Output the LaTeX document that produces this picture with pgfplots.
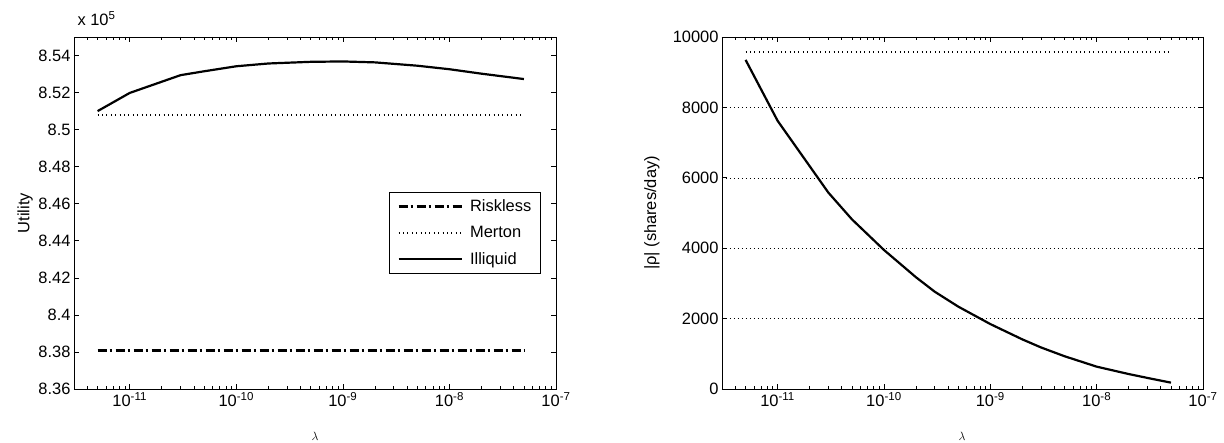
\documentclass[border=0pt]{standalone}
\usepackage{fontspec}
\setmainfont{Liberation Sans}
\usepackage{pgfplots}
\pgfplotsset{compat=1.18}
\begin{document}
\begin{tikzpicture}
\useasboundingbox (0,0) rectangle (1224bp,443bp);
% ---------------- left panel ----------------
\begin{axis}[
  xmode=log, scale only axis, anchor=south west,
  at={(74bp,54bp)}, width=482bp, height=352bp,
  xmin=3e-12, xmax=1e-7,
  xtick={1e-11,1e-10,1e-9,1e-8,1e-7},
  xticklabels={10\textsuperscript{-11},10\textsuperscript{-10},10\textsuperscript{-9},10\textsuperscript{-8},10\textsuperscript{-7}},
  minor xtick={4e-12,5e-12,6e-12,7e-12,8e-12,9e-12,
    2e-11,3e-11,4e-11,5e-11,6e-11,7e-11,8e-11,9e-11,
    2e-10,3e-10,4e-10,5e-10,6e-10,7e-10,8e-10,9e-10,
    2e-9,3e-9,4e-9,5e-9,6e-9,7e-9,8e-9,9e-9,
    2e-8,3e-8,4e-8,5e-8,6e-8,7e-8,8e-8,9e-8},
  tick align=inside, tick pos=both,
  major tick length=5bp, minor tick length=3bp,
  every tick/.style={black, line width=0.6bp},
  axis line style={black, line width=0.8bp},
  ticklabel style={font=\fontsize{16.5}{19}\selectfont},
  /pgf/number format/assume math mode=true,
  ymin=8.36, ymax=8.55,
  ytick={8.36,8.38,8.40,8.42,8.44,8.46,8.48,8.50,8.52,8.54},
  yticklabel style={/pgf/number format/fixed,/pgf/number format/precision=2},
  legend style={at={(rel axis cs:0.969,0.327)}, anchor=south east,
    draw=black, line width=0.6bp, fill=white,
    font=\fontsize{16.5}{19}\selectfont, row sep=9bp,
    inner xsep=7.5bp, inner ysep=6bp},
  legend cell align=left,
  legend image code/.code={\draw[#1] (0bp,0bp) -- (63bp,0bp); \path (68bp,0bp);},
]
\addplot[black, line width=2.8bp, dash pattern=on 9bp off 3bp on 2.5bp off 3.5bp] coordinates {(5e-12,8.3807) (5e-8,8.3807)};
\addlegendentry{Riskless}
\addplot[black, line width=2.2bp, dash pattern=on 1bp off 3.4bp] coordinates {(5e-12,8.5077) (5e-8,8.5077)};
\addlegendentry{Merton}
\addplot[black, line width=2.2bp] coordinates {
(5e-12,8.5100) (1e-11,8.5198) (3e-11,8.5294) (5e-11,8.5315) (1e-10,8.5342)
(2e-10,8.5357) (5e-10,8.5366) (1e-9,8.5368) (2e-9,8.5363) (5e-9,8.5345)
(1e-8,8.5326) (2e-8,8.5302) (5e-8,8.5273)};
\addlegendentry{Illiquid}
\end{axis}
% ---------------- right panel ----------------
\begin{axis}[
  xmode=log, scale only axis, anchor=south west,
  at={(722bp,54bp)}, width=481bp, height=352bp,
  xmin=3e-12, xmax=1e-7,
  xtick={1e-11,1e-10,1e-9,1e-8,1e-7},
  xticklabels={10\textsuperscript{-11},10\textsuperscript{-10},10\textsuperscript{-9},10\textsuperscript{-8},10\textsuperscript{-7}},
  minor xtick={4e-12,5e-12,6e-12,7e-12,8e-12,9e-12,
    2e-11,3e-11,4e-11,5e-11,6e-11,7e-11,8e-11,9e-11,
    2e-10,3e-10,4e-10,5e-10,6e-10,7e-10,8e-10,9e-10,
    2e-9,3e-9,4e-9,5e-9,6e-9,7e-9,8e-9,9e-9,
    2e-8,3e-8,4e-8,5e-8,6e-8,7e-8,8e-8,9e-8},
  tick align=inside, tick pos=both,
  major tick length=5bp, minor tick length=3bp,
  every tick/.style={black, line width=0.6bp},
  axis line style={black, line width=0.8bp},
  ticklabel style={font=\fontsize{16.5}{19}\selectfont},
  /pgf/number format/assume math mode=true,
  /pgf/number format/1000 sep={},
  scaled y ticks=false,
  ymin=0, ymax=10000,
  ytick={0,2000,4000,6000,8000,10000},
  ymajorgrids,
  major grid style={black, line width=0.5bp, dash pattern=on 0.8bp off 3.2bp},
]
\addplot[black, line width=2.2bp, dash pattern=on 1bp off 3.4bp] coordinates {(5e-12,9570) (5e-8,9570)};
\addplot[black, line width=2.2bp] coordinates {
(5e-12,9350) (1e-11,7620) (3e-11,5580) (5e-11,4820) (1e-10,3950)
(2e-10,3175) (3e-10,2765) (5e-10,2340) (1e-9,1845) (2e-9,1410)
(3e-9,1180) (5e-9,930) (1e-8,635) (2e-8,425) (3e-8,315) (5e-8,180)};
\end{axis}
% labels
\node[anchor=base west, font=\fontsize{16.5}{19}\selectfont] at (74bp,417bp) {x 10\textsuperscript{5}};
\node[rotate=90, font=\fontsize{16.5}{19}\selectfont] at (25bp,230bp) {Utility};
\node[rotate=90, font=\fontsize{16.5}{19}\selectfont] at (652bp,230bp) {|ρ| (shares/day)};
\node[font=\fontsize{13}{15}\selectfont] at (315bp,7bp) {$\lambda$};
\node[font=\fontsize{13}{15}\selectfont] at (962bp,7bp) {$\lambda$};
\end{tikzpicture}
\end{document}
